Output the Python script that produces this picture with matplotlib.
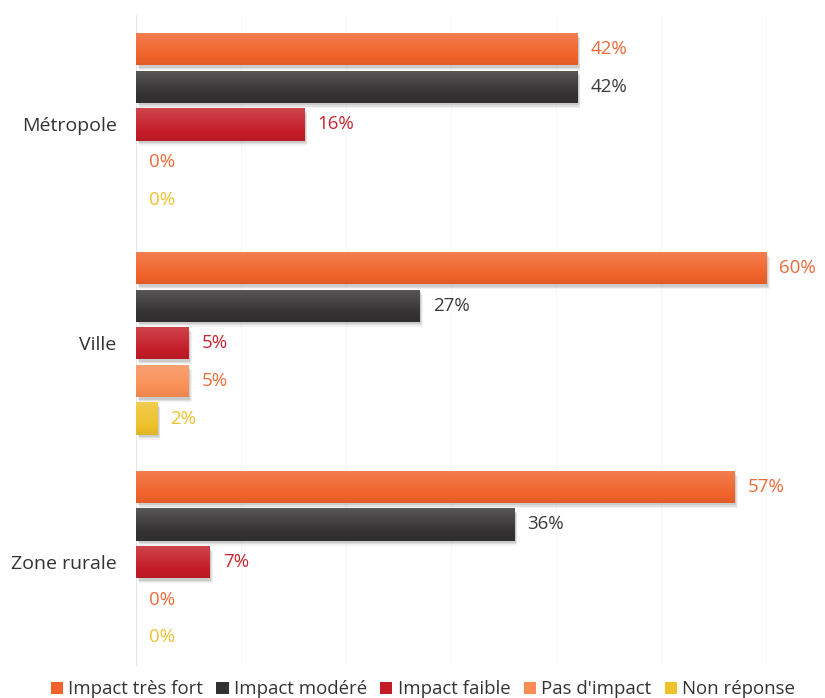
import numpy as np
import matplotlib
matplotlib.use("Agg")
import matplotlib.pyplot as plt
import matplotlib.colors as mcolors
import matplotlib.transforms as mtransforms
from matplotlib.patches import Rectangle

plt.rcParams["font.family"] = ["Open Sans", "DejaVu Sans"]

categories = ["Métropole", "Ville", "Zone rurale"]
series = ["Impact très fort", "Impact modéré", "Impact faible", "Pas d'impact", "Non réponse"]
values = [
    [42, 60, 57],   # Impact très fort
    [42, 27, 36],   # Impact modéré
    [16, 5, 7],     # Impact faible
    [0, 5, 0],      # Pas d'impact
    [0, 2, 0],      # Non réponse
]
colors = ["#F0622A", "#333132", "#C41C26", "#F98E55", "#EEC12A"]
label_colors = ["#EE6A38", "#3A3A3A", "#C6242E", "#EE6A38", "#EDC232"]

fig = plt.figure(figsize=(8.25, 6.98), dpi=100)
ax = fig.add_axes([136 / 825, 1 - 665 / 698, 1 - 136 / 825, (665 - 15) / 698])

bar_h = 0.147
step = 0.172


def shade(c, f):
    r, g, b = mcolors.to_rgb(c)
    if f >= 0:
        return (r + (1 - r) * f, g + (1 - g) * f, b + (1 - b) * f)
    return (r * (1 + f), g * (1 + f), b * (1 + f))


for s, (name, vals) in enumerate(zip(series, values)):
    for g, v in enumerate(vals):
        y = g + (s - 2) * step
        if v > 0:
            # soft drop shadow
            for k, a in [(4, 0.05), (3, 0.07), (2, 0.09)]:
                off = mtransforms.offset_copy(ax.transData, fig=fig, x=k * 0.6, y=-k * 0.9, units="points")
                ax.add_patch(Rectangle((0, y - bar_h / 2), v, bar_h, facecolor="black",
                                       alpha=a, edgecolor="none", transform=off, zorder=1))
            rect = Rectangle((0, y - bar_h / 2), v, bar_h, facecolor=colors[s],
                             edgecolor="none", zorder=2)
            ax.add_patch(rect)
            # vertical gradient: lighter on top, slightly darker at the bottom
            grad = np.array([shade(colors[s], f) for f in np.linspace(0.18, -0.06, 32)])[:, None, :]
            im = ax.imshow(grad, extent=(0, v, y + bar_h / 2, y - bar_h / 2), aspect="auto",
                           interpolation="bilinear", zorder=3)
            im.set_clip_path(rect)
        ax.annotate(f"{v}%", xy=(v, y), xytext=(9.5, 0), textcoords="offset points",
                    ha="left", va="center", fontsize=13.5, color=label_colors[s], zorder=4)
    ax.bar([0], [0], color=colors[s], label=name)

ax.set_xlim(0, 65.6)
ax.set_ylim(2.47, -0.50)
ax.set_yticks(range(len(categories)))
ax.set_yticklabels(categories, fontsize=14, color="#333333")
ax.tick_params(axis="y", length=0, pad=14)
ax.set_xticks(np.arange(10, 70, 10))
ax.tick_params(axis="x", length=0, labelbottom=False)
ax.grid(axis="x", color="#F7F7F7", linewidth=0.8, zorder=0)
ax.set_axisbelow(True)

for side in ["top", "right", "bottom"]:
    ax.spines[side].set_visible(False)
ax.spines["left"].set_color("#E6E6E6")

fig.legend(loc="lower left", bbox_to_anchor=(34 / 825, -17 / 698), ncol=5, frameon=False,
           fontsize=13.4, handlelength=0.65, handleheight=0.65, handletextpad=0.3,
           columnspacing=0.7, labelcolor="#333333")

fig.savefig("out.png", dpi=100)
